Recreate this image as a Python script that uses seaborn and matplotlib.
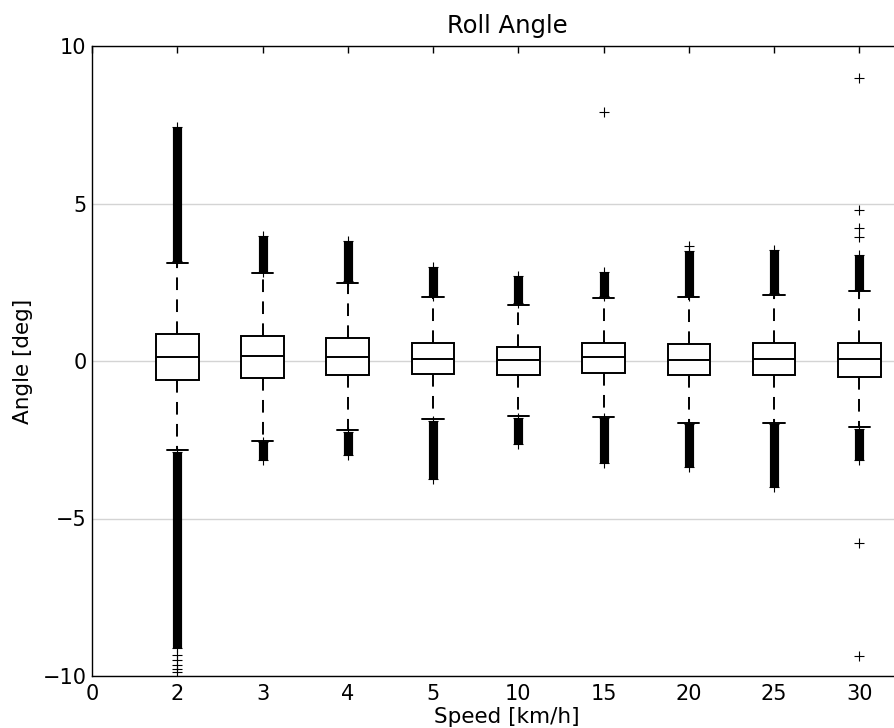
import numpy as np
import pandas as pd
import matplotlib
matplotlib.use("Agg")
import matplotlib.pyplot as plt
import seaborn as sns

# speeds (km/h) and box summary, angle in deg
speeds = ['2', '3', '4', '5', '10', '15', '20', '25', '30']
whis_lo = [-2.83, -2.53, -2.20, -1.84, -1.75, -1.77, -1.96, -1.96, -2.10]
q1 = [-0.61, -0.54, -0.45, -0.40, -0.44, -0.37, -0.46, -0.43, -0.50]
median = [0.14, 0.15, 0.12, 0.07, 0.02, 0.13, 0.03, 0.06, 0.05]
q3 = [0.87, 0.80, 0.73, 0.56, 0.44, 0.58, 0.53, 0.58, 0.58]
whis_hi = [3.10, 2.78, 2.49, 2.02, 1.78, 2.01, 2.02, 2.10, 2.21]

# dense runs of outliers (too packed to tell apart), low/high end of each run
upper_run_lo = [3.18, 2.84, 2.55, 2.07, 1.85, 2.06, 2.07, 2.15, 2.26]
upper_run_hi = [7.44, 3.98, 3.82, 2.99, 2.70, 2.84, 3.50, 3.52, 3.37]
lower_run_hi = [-2.88, -2.58, -2.25, -1.90, -1.80, -1.82, -2.00, -2.00, -2.15]
lower_run_lo = [-9.12, -3.14, -2.98, -3.76, -2.63, -3.23, -3.35, -4.00, -3.14]

# single outliers that stand apart
extra_speed = ['2', '2', '2', '2', '2', '15', '20', '30', '30', '30', '30', '30', '30']
extra_angle = [-9.33, -9.49, -9.65, -9.78, -9.88, 7.9, 3.65, 3.95, 4.21, 4.79, 9.0, -5.79, -9.37]

xtick_labels = ['0'] + speeds

box_df = pd.DataFrame({
    'speed': np.repeat(speeds, 5),
    'angle': np.column_stack([whis_lo, q1, median, q3, whis_hi]).ravel(),
})

flier_df = pd.DataFrame({
    'speed': list(speeds) * 4 + extra_speed,
    'angle': upper_run_lo + upper_run_hi + lower_run_hi + lower_run_lo + extra_angle,
})

sns.set_style("white")
plt.rcParams['font.family'] = ['DejaVu Sans']
plt.rcParams['text.color'] = 'black'
plt.rcParams['axes.labelcolor'] = 'black'

fig = plt.figure(figsize=(8.95, 7.28), dpi=100)
# axes run past the right edge, as in the cropped original
ax = fig.add_axes([92 / 895, 52 / 728, 830 / 895, 630 / 728])

ax.grid(axis='y', color='#d4d4d4', linewidth=1.0, zorder=0)
ax.set_axisbelow(True)

sns.boxplot(data=box_df, x='speed', y='angle', order=speeds, whis=(0, 100),
            width=0.5, color='white', linecolor='black', linewidth=1.4,
            saturation=1, ax=ax,
            whiskerprops={'linestyle': (0, (6.5, 4.8))})

pos = np.arange(len(speeds))
ax.vlines(pos, upper_run_lo, upper_run_hi, color='black', linewidth=6.6, zorder=3)
ax.vlines(pos, lower_run_lo, lower_run_hi, color='black', linewidth=6.6, zorder=3)

sns.stripplot(data=flier_df, x='speed', y='angle', order=speeds, jitter=False,
              marker='+', color='black', size=7.5, linewidth=0.8, ax=ax, zorder=4)

ax.set_xlim(-1, -1 + 830 / (810 / 9.5))
ax.set_ylim(-10, 10)
ax.set_xticks(np.arange(-1, len(speeds)))
ax.set_xticklabels(xtick_labels)
ax.set_yticks([-10, -5, 0, 5, 10])
ax.tick_params(direction='in', length=5, width=1, top=True, right=True,
               labelsize=15, pad=6, colors='black')
ax.tick_params(axis='y', pad=4)
for s in ax.spines.values():
    s.set_color('black')
    s.set_linewidth(1.0)

ax.set_title('Roll Angle', fontsize=17.5, pad=9, color='black')
ax.set_xlabel('Speed [km/h]', fontsize=15.5, labelpad=2)
ax.set_ylabel('Angle [deg]', fontsize=15.5, labelpad=7)

fig.savefig('out.png', dpi=100)
